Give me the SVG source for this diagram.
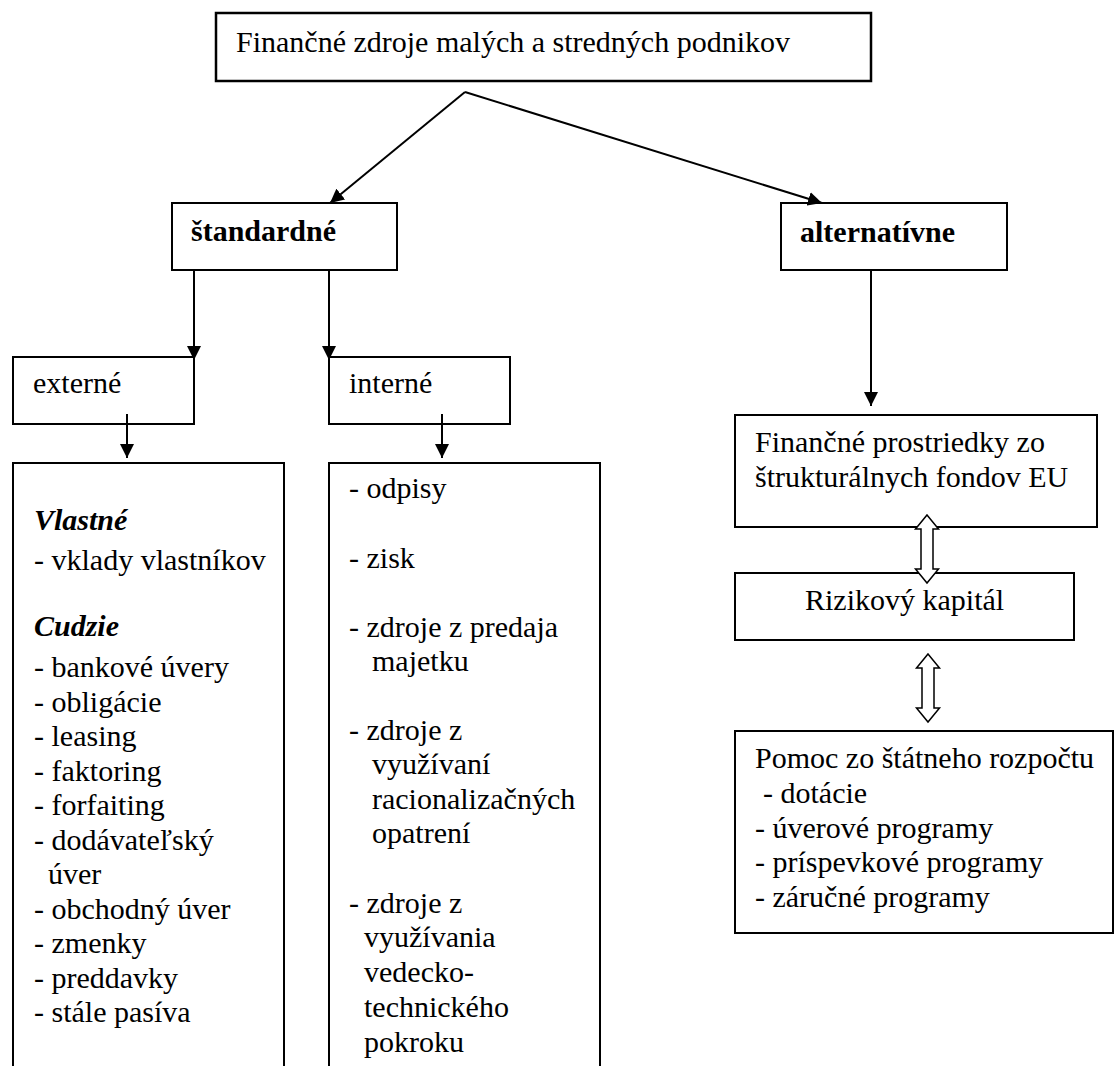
<svg xmlns="http://www.w3.org/2000/svg" width="1114" height="1066" viewBox="0 0 1114 1066">
<defs>
<marker id="ah" markerUnits="userSpaceOnUse" markerWidth="15" markerHeight="14" refX="14" refY="7" orient="auto">
<path d="M0,0 L14,7 L0,14 z" fill="#000"/>
</marker>
</defs>
<rect width="1114" height="1066" fill="#fff"/>

<g id="n-root">
<rect x="216" y="13" width="655" height="68" fill="#fff" stroke="#000" stroke-width="2.5"/>
<text font-family="Times New Roman" font-size="30" x="236" y="52">Finančné zdroje malých a stredných podnikov</text>
</g>

<g id="n-standardne">
<rect x="172" y="203" width="225" height="67" fill="#fff" stroke="#000" stroke-width="2"/>
<text font-family="Times New Roman" font-size="30" font-weight="bold" x="191" y="241">štandardné</text>
</g>

<g id="n-alternativne">
<rect x="781" y="203" width="226" height="67" fill="#fff" stroke="#000" stroke-width="2"/>
<text font-family="Times New Roman" font-size="30" font-weight="bold" x="800" y="242">alternatívne</text>
</g>

<g id="n-externe">
<rect x="13" y="357" width="181" height="67" fill="#fff" stroke="#000" stroke-width="2"/>
<text font-family="Times New Roman" font-size="30" x="33" y="393">externé</text>
</g>

<g id="n-interne">
<rect x="329" y="357" width="181" height="67" fill="#fff" stroke="#000" stroke-width="2"/>
<text font-family="Times New Roman" font-size="30" x="349" y="393">interné</text>
</g>

<g id="n-externe-list">
<path d="M13,1070 L13,463 L284,463 L284,1070" fill="#fff" stroke="#000" stroke-width="2"/>
<text font-family="Times New Roman" font-size="30" font-weight="bold" font-style="italic" x="34" y="530">Vlastné</text>
<text font-family="Times New Roman" font-size="30" x="34" y="570">- vklady vlastníkov</text>
<text font-family="Times New Roman" font-size="30" font-weight="bold" font-style="italic" x="34" y="636">Cudzie</text>
<text font-family="Times New Roman" font-size="30" x="34" y="677">- bankové úvery</text>
<text font-family="Times New Roman" font-size="30" x="34" y="711.5">- obligácie</text>
<text font-family="Times New Roman" font-size="30" x="34" y="746">- leasing</text>
<text font-family="Times New Roman" font-size="30" x="34" y="780.5">- faktoring</text>
<text font-family="Times New Roman" font-size="30" x="34" y="815">- forfaiting</text>
<text font-family="Times New Roman" font-size="30" x="34" y="849.5">- dodávateľský</text>
<text font-family="Times New Roman" font-size="30" x="48" y="884">úver</text>
<text font-family="Times New Roman" font-size="30" x="34" y="918.5">- obchodný úver</text>
<text font-family="Times New Roman" font-size="30" x="34" y="953">- zmenky</text>
<text font-family="Times New Roman" font-size="30" x="34" y="987.5">- preddavky</text>
<text font-family="Times New Roman" font-size="30" x="34" y="1022">- stále pasíva</text>
</g>

<g id="n-interne-list">
<path d="M329,1070 L329,463 L600,463 L600,1070" fill="#fff" stroke="#000" stroke-width="2"/>
<text font-family="Times New Roman" font-size="30" x="349" y="498">- odpisy</text>
<text font-family="Times New Roman" font-size="30" x="349" y="568">- zisk</text>
<text font-family="Times New Roman" font-size="30" x="349" y="637">- zdroje z predaja</text>
<text font-family="Times New Roman" font-size="30" x="372" y="671">majetku</text>
<text font-family="Times New Roman" font-size="30" x="349" y="740">- zdroje z</text>
<text font-family="Times New Roman" font-size="30" x="372" y="774">využívaní</text>
<text font-family="Times New Roman" font-size="30" x="372" y="809">racionalizačných</text>
<text font-family="Times New Roman" font-size="30" x="372" y="843">opatrení</text>
<text font-family="Times New Roman" font-size="30" x="349" y="913">- zdroje z</text>
<text font-family="Times New Roman" font-size="30" x="364" y="947">využívania</text>
<text font-family="Times New Roman" font-size="30" x="364" y="982">vedecko-</text>
<text font-family="Times New Roman" font-size="30" x="364" y="1017">technického</text>
<text font-family="Times New Roman" font-size="30" x="364" y="1052">pokroku</text>
</g>

<g id="n-eu">
<rect x="735" y="415" width="362" height="112" fill="#fff" stroke="#000" stroke-width="2"/>
<text font-family="Times New Roman" font-size="30" x="755" y="452">Finančné prostriedky zo</text>
<text font-family="Times New Roman" font-size="30" x="755" y="487">štrukturálnych fondov EU</text>
</g>

<g id="n-rizikovy">
<rect x="735" y="573" width="339" height="67" fill="#fff" stroke="#000" stroke-width="2"/>
<text font-family="Times New Roman" font-size="30" x="805" y="610">Rizikový kapitál</text>
</g>

<g id="n-pomoc">
<rect x="735" y="731" width="378" height="202" fill="#fff" stroke="#000" stroke-width="2"/>
<text font-family="Times New Roman" font-size="30" x="755" y="768">Pomoc zo štátneho rozpočtu</text>
<text font-family="Times New Roman" font-size="30" x="763" y="803">- dotácie</text>
<text font-family="Times New Roman" font-size="30" x="755" y="838">- úverové programy</text>
<text font-family="Times New Roman" font-size="30" x="755" y="872">- príspevkové programy</text>
<text font-family="Times New Roman" font-size="30" x="755" y="907">- záručné programy</text>
</g>

<g id="connectors" fill="none" stroke="#000" stroke-width="2">
<line x1="465" y1="92" x2="330" y2="203" marker-end="url(#ah)"/>
<line x1="465" y1="92" x2="822" y2="203" marker-end="url(#ah)"/>
<line x1="194" y1="270" x2="194" y2="360" marker-end="url(#ah)"/>
<line x1="329" y1="270" x2="329" y2="360" marker-end="url(#ah)"/>
<line x1="127" y1="414" x2="127" y2="458" marker-end="url(#ah)"/>
<line x1="442" y1="414" x2="442" y2="458" marker-end="url(#ah)"/>
<line x1="871" y1="270" x2="871" y2="406" marker-end="url(#ah)"/>
<polygon fill="#fff" stroke-width="1.5" points="927,515 938.5,529 933,529 933,569 938.5,569 927,583 915.5,569 921,569 921,529 915.5,529"/>
<polygon fill="#fff" stroke-width="1.5" points="928,654 939.5,668 934,668 934,708 939.5,708 928,722 916.5,708 922,708 922,668 916.5,668"/>
</g>
</svg>
